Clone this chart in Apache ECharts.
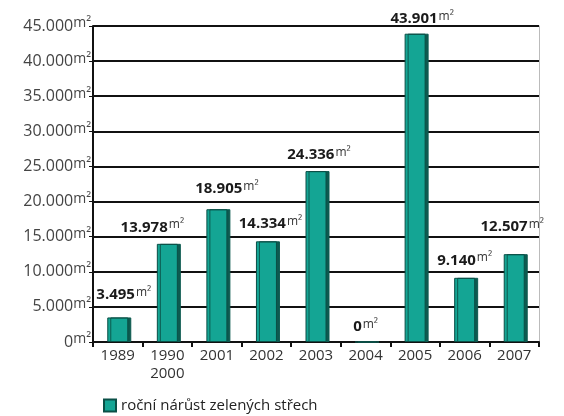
<!DOCTYPE html>
<html><head><meta charset="utf-8">
<script src="https://cdn.jsdelivr.net/npm/echarts@6/dist/echarts.min.js"></script>
<style>html,body{margin:0;padding:0;background:#fff}#c{width:564px;height:416px}</style>
</head><body><div id="c"></div>
<script>
const categories = ['1989', '1990\n2000', '2001', '2002', '2003', '2004', '2005', '2006', '2007'];
const values = [3495, 13978, 18905, 14334, 24336, 0, 43901, 9140, 12507];
const seriesName = 'roční nárůst zelených střech';
const yTicks = [0, 5000, 10000, 15000, 20000, 25000, 30000, 35000, 40000, 45000];

const labelOffsets = [[6,-9],[-15,-3],[10,-7],[4,-4],[3,-3],[0,-1],[7,-1],[0,-4],[-2,-14]];

function fmt(v){ return String(v).replace(/\B(?=(\d{3})+(?!\d))/g, '.'); }

const chart = echarts.init(document.getElementById('c'));
chart.setOption({
  animation: false,
  textStyle: { fontFamily: 'Open Sans' },
  grid: { left: 93, right: 25, top: 26, bottom: 74 },
  legend: {
    left: 98, top: 393, itemWidth: 12, itemHeight: 12, icon: 'rect', itemGap: 6,
    textStyle: { fontSize: 15, color: '#222', fontFamily: 'Open Sans' },
    data: [seriesName]
  },
  xAxis: {
    type: 'category', data: categories,
    axisLine: { lineStyle: { color: '#111', width: 2 } },
    axisTick: { show: true, length: 5, lineStyle: { color: '#111', width: 2 } },
    axisLabel: { fontSize: 15, color: '#333', lineHeight: 18, margin: 5 }
  },
  yAxis: [{
    type: 'value', min: 0, max: 45000, interval: 5000,
    axisLine: { show: true, lineStyle: { color: '#111', width: 2 } },
    axisTick: { show: true, length: 4, lineStyle: { color: '#111', width: 1 } },
    splitLine: { lineStyle: { color: '#111', width: 2 } },
    axisLabel: {
      margin: 2,
      formatter: v => '{n|' + fmt(v) + '}{u|m²}',
      rich: {
        n: { fontSize: 16, color: '#444', fontFamily: 'Open Sans' },
        u: { fontSize: 14, color: '#444', padding: [0,0,5,0], fontFamily: 'Open Sans' }
      }
    }
  }, {
    type: 'value', min: 0, max: 45000, interval: 5000, position: 'right',
    axisLine: { show: true, lineStyle: { color: '#bbb', width: 1 } },
    axisTick: { show: false }, axisLabel: { show: false }, splitLine: { show: false }
  }],
  series: [{
    name: seriesName, type: 'bar', barWidth: 21,
    data: values.map((v, i) => ({ value: v, label: { offset: labelOffsets[i] } })),
    itemStyle: {
      color: '#14a594', borderColor: '#0a4f46', borderWidth: 1,
      shadowColor: '#0d5a50', shadowOffsetX: 3, shadowOffsetY: 0, shadowBlur: 0
    },
    label: {
      show: true, position: 'top',
      formatter: p => '{b|' + fmt(p.value) + '}{u|m²}',
      rich: {
        b: { fontSize: 15, fontWeight: 'bold', color: '#1a1a1a', fontFamily: 'Open Sans' },
        u: { fontSize: 12, color: '#333', fontFamily: 'Open Sans', padding: [0,0,5,1] }
      }
    }
  }]
});
</script></body></html>
